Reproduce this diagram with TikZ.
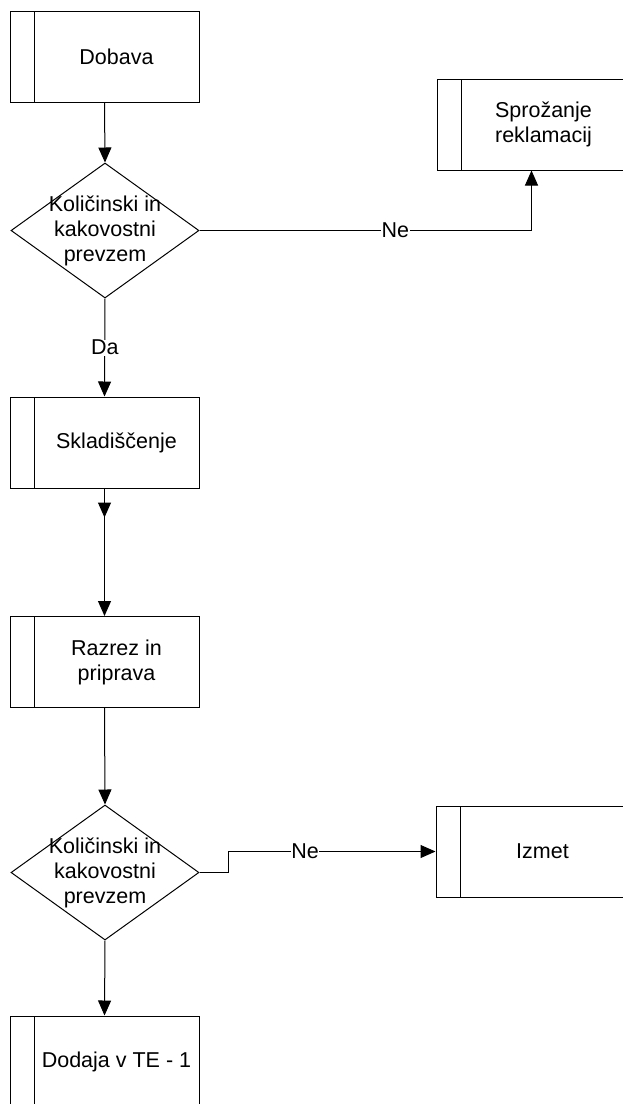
\documentclass[tikz,border=0pt]{standalone}
\usepackage{fontspec}
\setmainfont{Liberation Sans}
\usetikzlibrary{shapes.geometric,arrows.meta,decorations.markings}

\tikzset{
  flowtext/.style={font=\fontsize{21.5}{25}\selectfont, align=center},
  process/.style={draw=black, line width=1pt, rectangle, inner sep=0pt,
    minimum width=189pt, minimum height=91pt,
    path picture={\draw[line width=1pt]
      ([xshift=24pt]path picture bounding box.north west) --
      ([xshift=24pt]path picture bounding box.south west);}},
  boxtext/.style={label={[flowtext, xshift=12pt]center:#1}},
  decision/.style={draw=black, line width=1pt, diamond, inner sep=0pt,
    minimum width=188pt, minimum height=135pt,
    label={[flowtext]center:#1}},
  flow/.style={draw=black, line width=1pt, -{Triangle[length=15pt,width=13pt]}},
  edgelabel/.style={fill=white, inner sep=0.5pt, flowtext},
  midarrow/.style={postaction={decorate},
    decoration={markings, mark=at position #1 with
      {\arrow{Triangle[length=15pt,width=13pt]}}}}
}

\begin{document}
\begin{tikzpicture}[x=1pt, y=-1pt]
  \useasboundingbox (0,0) rectangle (623,1104);
  \clip (0,0) rectangle (623,1104);
  \fill[white] (0,0) rectangle (623,1104);

  % process boxes
  \node[process, boxtext={Dobava}]            (dobava) at (104.5,57)    {};
  \node[process, boxtext={Sprožanje\\reklamacij}] (sproz) at (531.5,124.5) {};
  \node[process, boxtext={Skladiščenje}]      (sklad)  at (104.5,442.5) {};
  \node[process, boxtext={Razrez in\\priprava}] (razrez) at (104.5,662)  {};
  \node[process, boxtext={Izmet}]             (izmet)  at (530.5,851.5) {};
  \node[process, boxtext={Dodaja v TE - 1}]   (dodaja) at (104.5,1061.5) {};

  % decisions
  \node[decision={Količinski in\\kakovostni\\prevzem}] (q1) at (105,230.5) {};
  \node[decision={Količinski in\\kakovostni\\prevzem}] (q2) at (105,872.5) {};

  % connectors
  \draw[flow] (dobava.south) -- (q1.north);
  \draw[flow] (q1.south) -- node[edgelabel] (da) {Da} (sklad.north);
  \draw[flow, midarrow=29pt] (sklad.south) -- (razrez.north);
  \draw[flow] (razrez.south) -- (q2.north);
  \draw[flow] (q2.south) -- (dodaja.north);

  \draw[flow] (q1.east) -| node[edgelabel, pos=0.295] (ne1) {Ne} (sproz.south);

  \coordinate (jog) at ([xshift=29pt]q2.east);
  \draw[flow] (q2.east) -- (jog) |- node[edgelabel, pos=0.685] (ne2) {Ne} (izmet.west);
\end{tikzpicture}
\end{document}
